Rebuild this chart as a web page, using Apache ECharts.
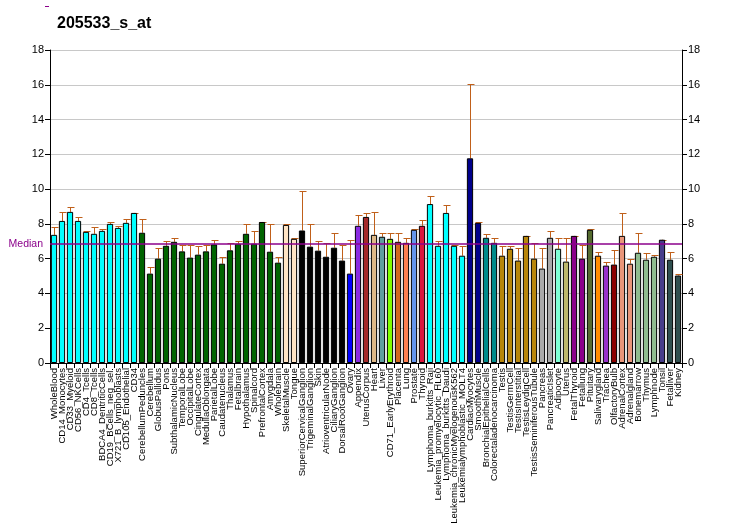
<!DOCTYPE html>
<html><head><meta charset="utf-8">
<script src="https://cdn.jsdelivr.net/npm/echarts@6/dist/echarts.min.js"></script>
<style>html,body{margin:0;padding:0;background:#fff}#c{width:732px;height:530px}</style>
</head><body><div id="c"></div>
<script>
const categories = ["WholeBlood","CD14_Monocytes","CD33_Myeloid","CD56_NKCells","CD4_Tcells","CD8_Tcells","BDCA4_DentriticCells","CD19_BCells_neg_sel.","X721_B_lymphoblasts","CD105_Endothelial","CD34","CerebellumPeduncles","Cerebellum","GlobusPallidus","Pons","SubthalamicNucleus","TemporalLobe","OccipitalLobe","CingulateCortex","MedullaOblongata","ParietalLobe","Caudatenucleus","Thalamus","Fetalbrain","Hypothalamus","Spinalcord","PrefrontalCortex","Amygdala","Wholebrain","SkeletalMuscle","Tongue","SuperiorCervicalGanglion","TrigeminalGanglion","Skin","AtrioventricularNode","CiliaryGanglion","DorsalRootGanglion","Ovary","Appendix","UterusCorpus","Heart","Liver","CD71_EarlyErythroid","Placenta","Lung","Prostate","Thyroid","Lymphoma_burkitts_Raji","Leukemia_promyelocytic_HL60","Lymphoma_burkitts_Daudi","Leukemia_chronicMyelogenousK562","Leukemialymphoblastic_MOLT4","CardiacMyocytes","SmoothMuscle","BronchialEpithelialCells","Colorectaladenocarcinoma","Testis","TestisGermCell","TestisInterstitial","TestisLeydigCell","TestisSeminiferousTubule","Pancreas","PancreaticIslet","Adipocyte","Uterus","FetalThyroid","Fetallung","Pituitary","Salivarygland","Trachea","OlfactoryBulb","AdrenalCortex","Adrenalgland","Bonemarrow","Thymus","Lymphnode","Tonsil","Fetalliver","Kidney"];
const values = [7.37,8.17,8.69,8.17,7.54,7.43,7.60,8.00,7.77,8.06,8.63,7.49,5.14,6.00,6.74,6.97,6.42,6.06,6.23,6.42,6.82,5.71,6.48,6.86,7.43,6.86,8.11,6.40,5.77,7.94,7.14,7.62,6.69,6.46,6.11,6.63,5.89,5.14,7.89,8.40,7.37,7.26,7.14,6.97,6.91,7.66,7.89,9.14,6.74,8.63,6.74,6.17,11.77,8.06,7.20,6.91,6.17,6.57,5.89,7.31,6.00,5.43,7.20,6.57,5.83,7.31,6.00,7.66,6.17,5.60,5.66,7.31,5.71,6.34,5.94,6.11,7.09,5.94,5.03];
const errTop = [7.81,8.69,8.95,8.40,7.58,7.81,7.70,8.10,7.87,8.27,8.63,8.29,5.52,6.63,7.03,7.18,6.80,6.80,6.74,6.80,7.09,6.11,6.91,7.03,8.00,7.60,8.11,8.00,6.11,8.00,7.20,9.89,8.00,7.03,6.91,7.49,6.80,7.09,8.51,8.63,8.69,7.49,7.49,7.49,7.20,7.71,8.23,9.60,7.03,9.09,6.80,6.74,16.04,8.11,7.43,7.20,6.74,6.74,6.63,7.31,6.91,6.63,7.60,7.20,7.20,7.31,6.80,7.71,6.40,5.83,6.51,8.63,6.00,7.49,6.34,6.23,7.09,6.40,5.14];
const median = 6.86;
const yTicks = [0,2,4,6,8,10,12,14,16,18];
const barColors = [
 ...Array(11).fill('#00FFFF'),
 ...Array(18).fill('#006400'),
 '#FFE4C4','#FFE4C4',
 ...Array(6).fill('#000000'),
 '#0000FF','#8A2BE2','#A52A2A','#DEB887','#5F9EA0','#7FFF00','#D2691E','#FF7F50','#6495ED','#DC143C',
 ...Array(5).fill('#00FFFF'),
 '#00008B','#00008B','#008B8B','#008B8B',
 ...Array(5).fill('#B8860B'),
 '#A9A9A9','#A9A9A9','#7FFFD4','#BDB76B','#8B008B','#8B008B','#556B2F','#FF8C00','#9932CC','#8B0000',
 '#E9967A','#E9967A','#8FBC8F','#8FBC8F','#8FBC8F','#483D8B','#2F4F4F','#2F4F4F'];

const chart = echarts.init(document.getElementById('c'), null, {renderer:'canvas'});
const font = 'Liberation Sans, Arial, sans-serif';
const errColor = '#C0601A';
chart.setOption({
  animation:false,
  backgroundColor:'#fff',
  title:{text:'205533_s_at', left:52, top:11, textStyle:{fontFamily:font, fontSize:16, fontWeight:'bold', color:'#000'}},
  graphic:[{type:'line', shape:{x1:45,y1:6.5,x2:49,y2:6.5}, style:{stroke:'#8B008B', lineWidth:1}}],
  grid:{left:50, right:50, top:50, bottom:167, outerBoundsMode:'none', containLabel:false},
  xAxis:{type:'category', data:categories,
    axisLine:{lineStyle:{color:'#000'}},
    axisTick:{show:true, lineStyle:{color:'#000'}, length:5},
    axisLabel:{rotate:90, interval:0, fontFamily:font, fontSize:9.5, color:'#000', margin:5}},
  yAxis:[
    {type:'value', min:0, max:18, interval:2, position:'left',
      axisLine:{show:true, lineStyle:{color:'#000'}}, axisTick:{show:true, length:5, lineStyle:{color:'#000'}},
      axisLabel:{fontFamily:font, fontSize:11, color:'#000', margin:6, formatter:v=>yTicks.includes(v)?String(v):''},
      splitLine:{show:true, lineStyle:{color:'#C8C8C8', width:1}}},
    {type:'value', min:0, max:18, interval:2, position:'right',
      axisLine:{show:true, lineStyle:{color:'#000'}}, axisTick:{show:true, length:5, lineStyle:{color:'#000'}},
      axisLabel:{fontFamily:font, fontSize:11, color:'#000', margin:6, formatter:v=>yTicks.includes(v)?String(v):''},
      splitLine:{show:false}}
  ],
  series:[
    {type:'bar', barCategoryGap:'22%',
      data: values.map((v,i)=>({value:v, itemStyle:{color:barColors[i], borderColor:'#000', borderWidth:1}})),
      markLine:{silent:true, symbol:'none', data:[{yAxis:median}],
        lineStyle:{color:'#8B008B', type:'solid', width:1.5},
        label:{show:true, position:'start', formatter:'Median', color:'#8B008B', fontFamily:font, fontSize:10.5, distance:7}}
    },
    {type:'custom', z:1,
      data: values.map((v,i)=>[i, v, errTop[i]]),
      renderItem:function(params, api){
        const x = api.value(0);
        const p0 = api.coord([x, api.value(1)]);
        const p1 = api.coord([x, api.value(2)]);
        const cx = Math.round(p0[0]) + 0.5;
        const yt = Math.round(p1[1]) + 0.5;
        const hw = 3;
        return {type:'group', children:[
          {type:'line', shape:{x1:cx, y1:p0[1], x2:cx, y2:yt}, style:{stroke:errColor, lineWidth:1}},
          {type:'line', shape:{x1:cx-hw, y1:yt, x2:cx+hw+1, y2:yt}, style:{stroke:errColor, lineWidth:1}}
        ]};
      }
    }
  ]
});
</script></body></html>
